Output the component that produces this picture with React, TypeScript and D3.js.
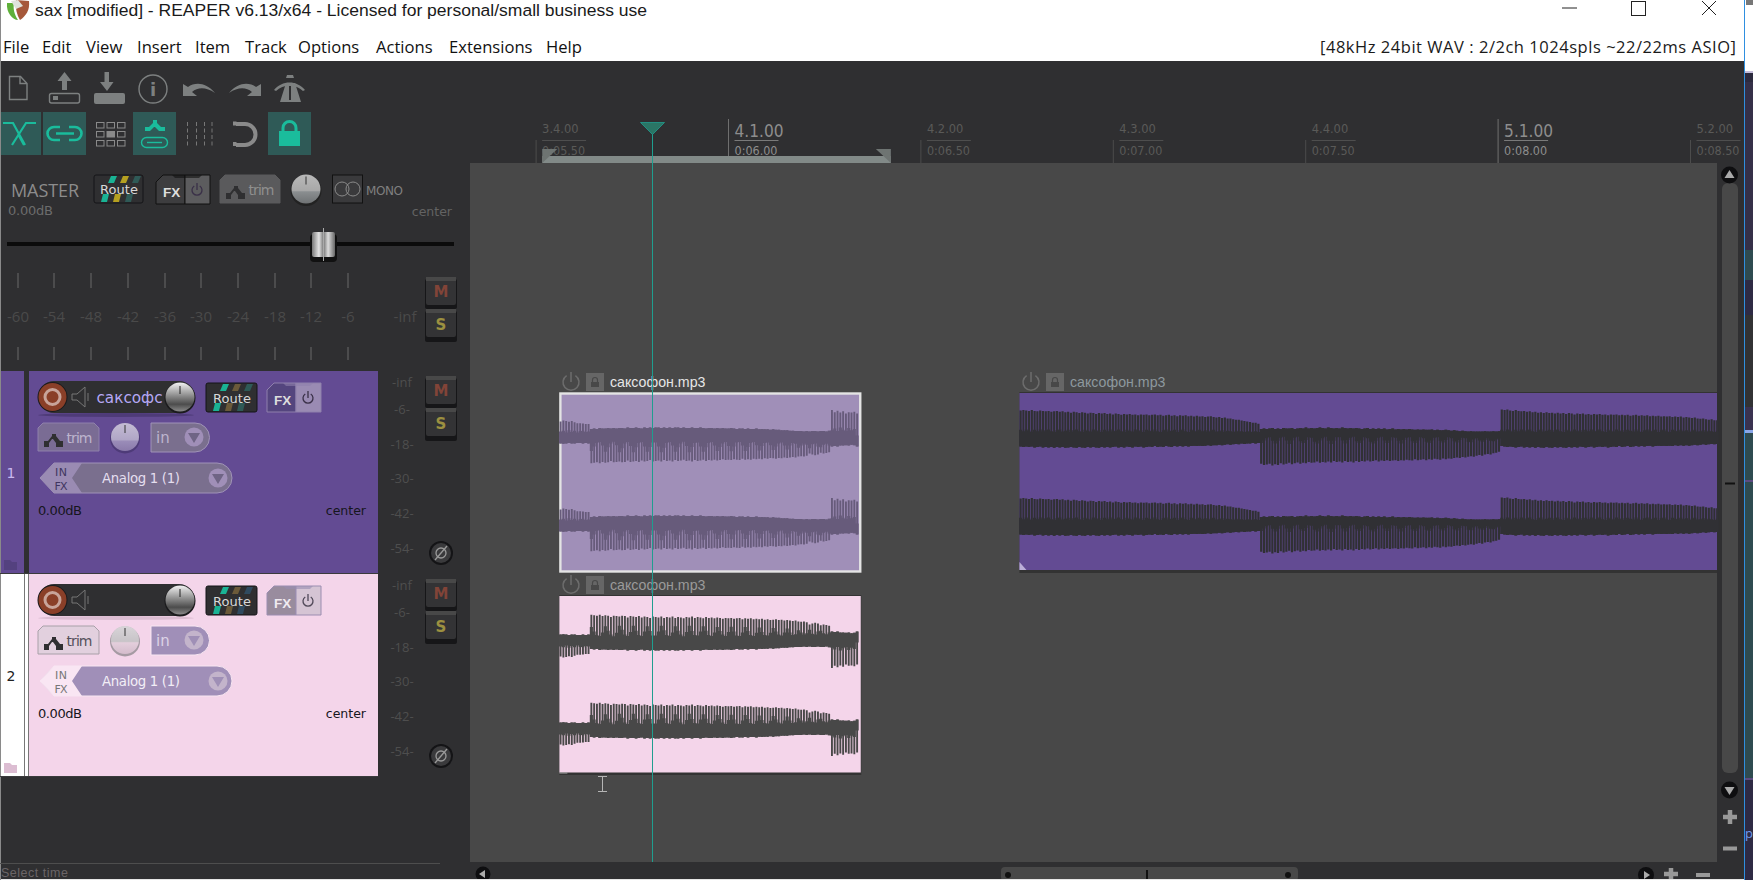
import React from "react";
import * as d3 from "d3";

// ---------- text content ----------
const titleText = "sax [modified] - REAPER v6.13/x64 - Licensed for personal/small business use";
const menuLabels = ["File", "Edit", "View", "Insert", "Item", "Track", "Options", "Actions", "Extensions", "Help"];
const menuStarts = [3, 42, 86, 137, 195, 245, 298, 376, 449, 546];
const statusText = "[48kHz 24bit WAV : 2/2ch 1024spls ~22/22ms ASIO]";
const itemName = "саксофон.mp3";
const masterDb = ["-60", "-54", "-48", "-42", "-36", "-30", "-24", "-18", "-12", "-6"];
const trackDb = ["-inf", "-6", "-18", "-30", "-42", "-54"];
const rulerBeats = ["3.4.00", "4.1.00", "4.2.00", "4.3.00", "4.4.00", "5.1.00", "5.2.00"];
const rulerTimes = [5.5, 6, 6.5, 7, 7.5, 8, 8.5];
const rulerMajor = [false, true, false, false, false, true, false];
const rulerClock = ["0:05.50", "0:06.00", "0:06.50", "0:07.00", "0:07.50", "0:08.00", "0:08.50"];

// ---------- timeline values (seconds) ----------
const cursorTime = 5.801;
const selectionSpan = [5.516, 6.422];
const shortItemStart = 5.5605;
const shortItemEnd = 6.345;
const longItemStart = 6.756;
const barHop = 0.00727;

// ---------- short item peaks: swell, body, release ----------
const shortSpikeA = [0.40, 0.42, 0.41, 0.39, 0.41, 0.38, 0.36, 0.36, 0.35, 0.34, 0.34];
const shortFlatA = [0.10, 0.11, 0.10, 0.09, 0.10, 0.10, 0.09, 0.09, 0.10, 0.09, 0.10];
const shortCoreA = [0.17, 0.19, 0.15, 0.20, 0.16, 0.19, 0.15, 0.18, 0.19, 0.16, 0.17];
const shortSpikeB = [
  0.55, 0.54, 0.53, 0.55, 0.52, 0.54, 0.53, 0.50, 0.53, 0.52,
  0.51, 0.53, 0.52, 0.49, 0.52, 0.51, 0.50, 0.52, 0.49, 0.51,
  0.50, 0.48, 0.51, 0.50, 0.49, 0.51, 0.48, 0.50, 0.49, 0.51,
  0.48, 0.50, 0.49, 0.47, 0.50, 0.49, 0.51, 0.48, 0.50, 0.49,
  0.47, 0.50, 0.48, 0.49, 0.47, 0.49, 0.48, 0.46, 0.48, 0.47,
  0.48, 0.46, 0.47, 0.48, 0.45, 0.47, 0.46, 0.47, 0.45, 0.46,
  0.45, 0.46, 0.44, 0.45, 0.43, 0.44, 0.45, 0.43, 0.44, 0.42,
  0.43, 0.42, 0.41, 0.42, 0.40, 0.39, 0.40, 0.38, 0.33, 0.35,
  0.37, 0.35, 0.31, 0.33, 0.32, 0.30,
];
const shortFlatB = [
  0.23, 0.24, 0.23, 0.25, 0.24, 0.24, 0.25, 0.24, 0.25, 0.24,
  0.25, 0.25, 0.24, 0.26, 0.25, 0.25, 0.26, 0.25, 0.24, 0.26,
  0.25, 0.26, 0.25, 0.26, 0.26, 0.25, 0.26, 0.25, 0.26, 0.25,
  0.26, 0.26, 0.25, 0.26, 0.25, 0.25, 0.26, 0.25, 0.25, 0.26,
  0.25, 0.24, 0.25, 0.25, 0.24, 0.25, 0.24, 0.25, 0.24, 0.24,
  0.25, 0.24, 0.23, 0.24, 0.24, 0.23, 0.24, 0.23, 0.23, 0.24,
  0.22, 0.23, 0.22, 0.22, 0.21, 0.22, 0.21, 0.21, 0.20, 0.20,
  0.20, 0.19, 0.19, 0.18, 0.18, 0.18, 0.17, 0.18, 0.17, 0.18,
  0.18, 0.17, 0.18, 0.18, 0.17, 0.19,
];
const shortCoreB = [
  0.27, 0.17, 0.09, 0.07, 0.15, 0.29, 0.19, 0.10, 0.06, 0.14,
  0.30, 0.21, 0.10, 0.07, 0.16, 0.30, 0.19, 0.09, 0.07, 0.17,
  0.29, 0.18, 0.08, 0.08, 0.17, 0.30, 0.20, 0.09, 0.07, 0.15,
  0.29, 0.19, 0.10, 0.06, 0.16, 0.30, 0.18, 0.09, 0.08, 0.17,
  0.29, 0.19, 0.09, 0.07, 0.15, 0.27, 0.18, 0.10, 0.07, 0.16,
  0.28, 0.17, 0.08, 0.07, 0.15, 0.27, 0.18, 0.09, 0.07, 0.14,
  0.26, 0.16, 0.09, 0.08, 0.14, 0.25, 0.17, 0.10, 0.08, 0.15,
  0.24, 0.15, 0.09, 0.11, 0.20, 0.15, 0.10, 0.13, 0.21, 0.12,
  0.10, 0.17, 0.19, 0.13, 0.11, 0.15,
];
const shortSpikeC = [0.66, 0.61, 0.64, 0.60, 0.63, 0.58, 0.61, 0.60, 0.62, 0.58];
const shortFlatC = [0.17, 0.16, 0.17, 0.15, 0.15, 0.14, 0.15, 0.13, 0.14, 0.17];
const shortCoreC = [0.20, 0.24, 0.18, 0.26, 0.21, 0.18, 0.25, 0.20, 0.23, 0.08];

// ---------- long item peaks: three phrases ----------
const longSpikeA = [
  0.61, 0.62, 0.61, 0.60, 0.62, 0.60, 0.59, 0.61, 0.60, 0.59,
  0.60, 0.58, 0.59, 0.60, 0.58, 0.59, 0.57, 0.58, 0.56, 0.58,
  0.57, 0.55, 0.57, 0.56, 0.54, 0.56, 0.55, 0.53, 0.55, 0.54,
  0.55, 0.53, 0.54, 0.52, 0.54, 0.53, 0.51, 0.53, 0.52, 0.53,
  0.51, 0.52, 0.50, 0.52, 0.51, 0.52, 0.50, 0.51, 0.52, 0.50,
  0.51, 0.49, 0.50, 0.51, 0.49, 0.50, 0.48, 0.50, 0.49, 0.50,
  0.48, 0.49, 0.47, 0.49, 0.47, 0.48, 0.46, 0.47, 0.48, 0.46,
  0.45, 0.46, 0.44, 0.45, 0.43, 0.43, 0.41, 0.40, 0.40, 0.38,
  0.37, 0.36, 0.35, 0.33, 0.33, 0.31,
];
const longFlatA = [
  0.21, 0.22, 0.21, 0.22, 0.21, 0.23, 0.22, 0.21, 0.23, 0.22,
  0.23, 0.22, 0.24, 0.22, 0.23, 0.22, 0.24, 0.23, 0.22, 0.23,
  0.24, 0.22, 0.23, 0.24, 0.22, 0.23, 0.22, 0.23, 0.24, 0.22,
  0.23, 0.22, 0.23, 0.22, 0.21, 0.23, 0.22, 0.23, 0.21, 0.22,
  0.23, 0.21, 0.22, 0.21, 0.23, 0.22, 0.21, 0.22, 0.20, 0.22,
  0.21, 0.22, 0.20, 0.21, 0.22, 0.20, 0.21, 0.20, 0.21, 0.20,
  0.21, 0.20, 0.19, 0.20, 0.19, 0.20, 0.19, 0.18, 0.19, 0.18,
  0.18, 0.17, 0.18, 0.17, 0.16, 0.17, 0.16, 0.15, 0.16, 0.14,
  0.15, 0.14, 0.14, 0.13, 0.14, 0.13,
];
const longSpikeB = [
  0.60, 0.63, 0.62, 0.60, 0.64, 0.61, 0.63, 0.59, 0.62, 0.60,
  0.58, 0.61, 0.59, 0.57, 0.60, 0.58, 0.59, 0.56, 0.58, 0.57,
  0.55, 0.58, 0.56, 0.57, 0.55, 0.57, 0.54, 0.56, 0.55, 0.57,
  0.54, 0.56, 0.55, 0.57, 0.54, 0.56, 0.54, 0.55, 0.53, 0.55,
  0.54, 0.52, 0.55, 0.53, 0.54, 0.52, 0.54, 0.53, 0.52, 0.54,
  0.52, 0.53, 0.51, 0.52, 0.53, 0.50, 0.52, 0.51, 0.50, 0.52,
  0.50, 0.51, 0.49, 0.50, 0.51, 0.48, 0.50, 0.48, 0.49, 0.47,
  0.46, 0.47, 0.45, 0.46, 0.44, 0.43, 0.44, 0.42, 0.40, 0.42,
  0.39, 0.38, 0.39, 0.36, 0.35, 0.33,
];
const longFlatB = [
  0.19, 0.20, 0.19, 0.20, 0.21, 0.19, 0.20, 0.19, 0.21, 0.20,
  0.20, 0.21, 0.19, 0.20, 0.21, 0.20, 0.22, 0.20, 0.21, 0.20,
  0.21, 0.22, 0.21, 0.20, 0.22, 0.21, 0.20, 0.21, 0.20, 0.22,
  0.21, 0.20, 0.21, 0.20, 0.21, 0.20, 0.19, 0.20, 0.21, 0.19,
  0.20, 0.19, 0.20, 0.19, 0.20, 0.18, 0.19, 0.20, 0.18, 0.19,
  0.18, 0.19, 0.18, 0.19, 0.18, 0.17, 0.18, 0.17, 0.18, 0.17,
  0.17, 0.18, 0.16, 0.17, 0.16, 0.16, 0.17, 0.16, 0.15, 0.16,
  0.15, 0.14, 0.15, 0.14, 0.13, 0.14, 0.13, 0.13, 0.13, 0.13,
  0.14, 0.13, 0.13, 0.14, 0.13, 0.14,
];
const longCoreA = [
  0.17, 0.14, 0.18, 0.15, 0.12, 0.17, 0.14, 0.18, 0.13, 0.16,
  0.18, 0.14, 0.12, 0.16, 0.18, 0.13, 0.15, 0.17, 0.12, 0.16,
  0.18, 0.14, 0.12, 0.17, 0.15, 0.13, 0.18, 0.14, 0.16, 0.12,
  0.17, 0.14, 0.18, 0.13, 0.15, 0.18, 0.14, 0.12, 0.17, 0.15,
  0.13, 0.18, 0.14, 0.16, 0.12, 0.17, 0.15, 0.13, 0.18, 0.14,
  0.12, 0.16, 0.18, 0.13, 0.15, 0.17, 0.12, 0.16, 0.18, 0.14,
  0.12, 0.17, 0.15, 0.13, 0.17, 0.14, 0.16, 0.12, 0.15, 0.17,
  0.13, 0.14, 0.16, 0.12, 0.15, 0.14, 0.12, 0.15, 0.13, 0.14,
  0.12, 0.14, 0.13, 0.12, 0.14, 0.12,
];
const longCoreB = [
  0.13, 0.07, 0.02, 0.00, 0.08, 0.14, 0.08, 0.01, -0.01, 0.07,
  0.15, 0.07, 0.01, -0.01, 0.09, 0.13, 0.06, 0.00, 0.01, 0.10,
  0.14, 0.07, 0.02, -0.01, 0.08, 0.15, 0.08, 0.00, 0.00, 0.07,
  0.14, 0.06, 0.01, -0.01, 0.09, 0.13, 0.07, 0.00, 0.02, 0.10,
  0.14, 0.08, 0.01, -0.01, 0.07, 0.13, 0.07, 0.00, 0.01, 0.08,
  0.14, 0.06, 0.01, 0.00, 0.09, 0.13, 0.07, 0.00, 0.02, 0.10,
  0.13, 0.07, 0.01, 0.00, 0.08, 0.12, 0.06, 0.00, 0.02, 0.09,
  0.12, 0.06, 0.01, 0.02, 0.10, 0.11, 0.05, 0.02, 0.07, 0.10,
  0.06, 0.02, 0.08, 0.09, 0.05, 0.03,
];
const longSpikeC = [
  0.63, 0.62, 0.63, 0.61, 0.60, 0.62, 0.60, 0.59, 0.60, 0.58,
  0.59, 0.57, 0.58, 0.56, 0.57, 0.55, 0.57, 0.55, 0.56, 0.54,
  0.56, 0.54, 0.55, 0.53, 0.55, 0.54, 0.52, 0.54, 0.53, 0.54,
  0.52, 0.53, 0.51, 0.53, 0.52, 0.53, 0.51, 0.52, 0.50, 0.52,
  0.51, 0.52, 0.50, 0.51, 0.50, 0.51, 0.49, 0.50, 0.51, 0.49,
  0.50, 0.49, 0.50, 0.48, 0.49, 0.48, 0.49, 0.47, 0.48, 0.47,
  0.48, 0.46, 0.47, 0.46, 0.47, 0.45, 0.46, 0.45, 0.44, 0.45,
  0.43, 0.42, 0.43, 0.41, 0.40, 0.41, 0.39, 0.39,
];
const longFlatC = [
  0.20, 0.21, 0.22, 0.21, 0.22, 0.23, 0.22, 0.21, 0.23, 0.22,
  0.23, 0.22, 0.24, 0.22, 0.23, 0.24, 0.22, 0.23, 0.24, 0.22,
  0.23, 0.22, 0.23, 0.24, 0.22, 0.23, 0.22, 0.23, 0.21, 0.22,
  0.23, 0.22, 0.21, 0.23, 0.22, 0.21, 0.22, 0.21, 0.23, 0.22,
  0.21, 0.22, 0.20, 0.22, 0.21, 0.20, 0.22, 0.21, 0.20, 0.21,
  0.20, 0.21, 0.20, 0.19, 0.21, 0.20, 0.19, 0.20, 0.19, 0.20,
  0.19, 0.20, 0.18, 0.19, 0.18, 0.19, 0.18, 0.19, 0.18, 0.17,
  0.18, 0.17, 0.16, 0.17, 0.16, 0.15, 0.16, 0.15,
];
const longCoreC = [
  0.17, 0.14, 0.18, 0.15, 0.12, 0.17, 0.14, 0.18, 0.13, 0.16,
  0.18, 0.14, 0.12, 0.16, 0.18, 0.13, 0.15, 0.17, 0.12, 0.16,
  0.18, 0.14, 0.12, 0.17, 0.15, 0.13, 0.18, 0.14, 0.16, 0.12,
  0.17, 0.14, 0.18, 0.13, 0.15, 0.18, 0.14, 0.12, 0.17, 0.15,
  0.13, 0.18, 0.14, 0.16, 0.12, 0.17, 0.15, 0.13, 0.18, 0.14,
  0.12, 0.16, 0.18, 0.13, 0.15, 0.17, 0.12, 0.16, 0.18, 0.14,
  0.12, 0.17, 0.15, 0.13, 0.17, 0.14, 0.16, 0.12, 0.15, 0.17,
  0.13, 0.14, 0.16, 0.12, 0.15, 0.14, 0.12, 0.15,
];

// ---------- layout / scales ----------
const timeX = d3.scaleLinear().domain([6, 8.5]).range([728.5, 1690.5]);
const ampPx = d3.scaleLinear().domain([0, 1]).range([0, 44]);

const SANS = "'Open Sans','Noto Sans',sans-serif";
const UI = "'Liberation Sans',Arial,sans-serif";
const DV = "'DejaVu Sans',sans-serif";
const PANEL = "#2f2f31";
const ARRANGE = "#484848";

type Sec = { spike: number[]; flat: number[]; core: number[]; up: boolean };
const shortSecs: Sec[] = [
  { spike: shortSpikeA, flat: shortFlatA, core: shortCoreA, up: true },
  { spike: shortSpikeB, flat: shortFlatB, core: shortCoreB, up: false },
  { spike: shortSpikeC, flat: shortFlatC, core: shortCoreC, up: true },
];
const longSecs: Sec[] = [
  { spike: longSpikeA, flat: longFlatA, core: longCoreA, up: true },
  { spike: longSpikeB, flat: longFlatB, core: longCoreB, up: false },
  { spike: longSpikeC, flat: longFlatC, core: longCoreC, up: true },
];

function Wave({ start, secs, centers, color, flip, barW }: { start: number; secs: Sec[]; centers: number[]; color: string; flip?: boolean; barW: number }) {
  const rows = secs.flatMap((s) =>
    s.spike.map((v, i) => ({ spike: v, flat: s.flat[i], core: s.core[i], up: flip ? !s.up : s.up }))
  );
  const step = timeX(start + barHop) - timeX(start);
  const paths = centers.map((cy) => {
    let thin = "";
    let solid = "";
    rows.forEach((r, i) => {
      const x = timeX(start + i * barHop) + 1.2;
      const dir = r.up ? -1 : 1;
      const yFlat = cy - dir * ampPx(r.flat);
      const ySpike = cy + dir * ampPx(r.spike);
      const yCore = cy + dir * ampPx(r.core);
      thin += `M${x},${yFlat}L${x},${ySpike}`;
      const x2 = x + step / 2 + 0.15;
      solid += `M${x - step / 2 - 0.15},${Math.min(yFlat, yCore)}H${x2}V${Math.max(yFlat, yCore)}H${x - step / 2 - 0.15}Z`;
    });
    return { thin, solid };
  });
  return (
    <g>
      {paths.map((p, i) => (
        <g key={i}>
          <path d={p.thin} stroke={color} strokeWidth={barW} fill="none" />
          <path d={p.solid} fill={color} />
        </g>
      ))}
    </g>
  );
}

function PowerIcon({ x, y, r, color, sw = 1.5 }: { x: number; y: number; r: number; color: string; sw?: number }) {
  return (
    <g fill="none" stroke={color} strokeWidth={sw}>
      <path d={`M${x - r * 0.55},${y - r * 0.8}A${r},${r} 0 1 0 ${x + r * 0.55},${y - r * 0.8}`} />
      <line x1={x} y1={y - r - 2} x2={x} y2={y} />
    </g>
  );
}

function ItemHeader({ x, y, color }: { x: number; y: number; color: string }) {
  return (
    <g>
      <PowerIcon x={x + 12} y={y + 9} r={8} color="#6c6c6c" />
      <rect x={x + 27} y={y} width={18} height={18} fill="#666" />
      <path d={`M${x + 32},${y + 14}v-5h8v5z`} fill="#484848" />
      <path d={`M${x + 33.5},${y + 9}v-2a2.5,2.5 0 0 1 5,0v2`} stroke="#484848" strokeWidth={1.2} fill="none" />
      <text x={x + 51} y={y + 14} fill={color} fontFamily={UI} fontSize={14.2}>{itemName}</text>
    </g>
  );
}

function Knob({ cx, cy, r, grad, ring }: { cx: number; cy: number; r: number; grad: string; ring: string }) {
  return (
    <g>
      <circle cx={cx} cy={cy + 1.5} r={r + 1} fill={ring} />
      <circle cx={cx} cy={cy} r={r} fill={`url(#${grad})`} />
      <line x1={cx} y1={cy - r + 2} x2={cx} y2={cy - r + 10} stroke="#333" strokeWidth={1} />
    </g>
  );
}

function RouteBtn({ x, y, w, h, c1, c2, c3, bg }: any) {
  const slant = (sx: number, c: string) => (
    <g fill={c}>
      <path d={`M${sx + 3},${y + 1}h6l-3,7h-6z`} />
      <path d={`M${sx - 5},${y + h - 9}h6l-2,8h-6z`} />
    </g>
  );
  return (
    <g>
      <rect x={x} y={y} width={w} height={h} rx={2} fill={bg} stroke="#151518" />
      {slant(x + 14, c1)}
      {slant(x + 26, c2)}
      {slant(x + 38, c3)}
      <text x={x + w / 2 + 0.5} y={y + h / 2 + 5} textAnchor="middle" fill="#d8d8d8" fontFamily={DV} fontSize={13} textLength={38}>Route</text>
    </g>
  );
}

function FxBtn({ x, y, cL, cR, txt, stroke }: any) {
  return (
    <g>
      <path d={`M${x},${y + 7}l7,-7h22v29h-29z`} fill={cL} stroke={stroke} />
      <path d={`M${x + 29},${y}h25v29h-25z`} fill={cR} stroke={stroke} />
      <path d={`M${x + 16},${y}h30l-3,3h-24z`} fill={stroke} opacity={0.6} />
      <text x={x + 7} y={y + 22} fill={txt} fontFamily={UI} fontWeight={700} fontSize={13.5}>FX</text>
      <PowerIcon x={x + 41} y={y + 15} r={5} color={txt === "#ddd" ? "#3a3048" : "#504858"} sw={1.3} />
    </g>
  );
}

function TrimBtn({ x, y, w, fill, stroke, txt }: any) {
  return (
    <g>
      <path d={`M${x},${y + 5}l5,-5h${w - 10}l5,5v23h-${w}z`} fill={fill} stroke={stroke} />
      <path d={`M${x + 6},${y + 24}v-6h4l4,-5v-2h4v2l4,5h3v6h-7v-4l-3,-4h-1l-3,4v4z`} fill="#2f2f31" />
      <text x={x + 28.5} y={y + 20} fill={txt} fontFamily={DV} fontSize={14} textLength={26}>trim</text>
    </g>
  );
}

function MsBtns({ y }: { y: number }) {
  return (
    <g>
      <rect x={425} y={y + 2} width={32} height={30} rx={2} fill="#161618" />
      <rect x={426} y={y} width={30} height={28} rx={2} fill="#333335" />
      <rect x={426} y={y} width={30} height={4} fill="#484848" />
      <text x={441} y={y + 20} textAnchor="middle" fill="#824438" fontFamily={DV} fontWeight={700} fontSize={15}>M</text>
      <rect x={425} y={y + 34} width={32} height={31} rx={2} fill="#161618" />
      <rect x={426} y={y + 32} width={30} height={28} rx={2} fill="#333335" />
      <rect x={426} y={y + 32} width={30} height={4} fill="#484848" />
      <text x={441} y={y + 53} textAnchor="middle" fill="#9c9040" fontFamily={DV} fontWeight={700} fontSize={15}>S</text>
    </g>
  );
}

function Track({ y0, n, theme }: { y0: number; n: number; theme: any }) {
  const y = (v: number) => y0 + v;
  return (
    <g>
      <rect x={1} y={y0} width={23} height={202} fill={theme.side} />
      <rect x={24} y={y0} width={5} height={202} fill={theme.gap} />
      {theme.rails && <g fill="#777"><rect x={24} y={y0} width={1} height={202} /><rect x={28} y={y0} width={1} height={202} /></g>}
      <rect x={29} y={y0} width={349} height={202} fill={theme.bg} />
      <rect x={0} y={y0 + 202} width={378} height={1} fill="#3a3a3c" />
      <text x={11} y={y(107)} textAnchor="middle" fill={theme.num} fontFamily={DV} fontSize={14}>{n}</text>
      <path d={`M4,${y(189)}h6l2,2h5v8h-13z`} fill={theme.folder} />

      <rect x={38} y={y(10)} width={157} height={32} rx={16} fill="#2f2f31" />
      <ellipse cx={116} cy={y(44)} rx={78} ry={2} fill={theme.shadow} />
      <circle cx={52.5} cy={y(26)} r={15} fill="#1b1b1d" />
      <circle cx={52.5} cy={y(26)} r={14} fill="#8a3f28" />
      <circle cx={52.5} cy={y(26)} r={7.5} fill="none" stroke="#c8a49a" strokeWidth={3} />
      <circle cx={52.5} cy={y(26)} r={3.5} fill="#8a3f28" />
      <path d={`M72,${y(23)}h5l8,-7v20l-8,-7h-5z`} fill="none" stroke="#777" strokeWidth={1} />
      <line x1={88} y1={y(22)} x2={88} y2={y(30)} stroke="#777" />
      {theme.name && <text x={96.5} y={y(32)} fill="#b6a8f5" fontFamily={DV} fontSize={16} textLength={66} lengthAdjust="spacingAndGlyphs">{theme.name}</text>}
      <circle cx={180} cy={y(27)} r={15.5} fill="#1b1b1d" />
      <circle cx={180} cy={y(26)} r={14.5} fill="url(#sphere)" />
      <line x1={180} y1={y(15)} x2={180} y2={y(23)} stroke="#222" />

      <RouteBtn x={206} y={y(12)} w={51} h={29} c1="#1ab394" c2="#6b5a3a" c3={theme.routeC3} bg="#2f2f31" />
      <FxBtn x={267} y={y(12)} cL={theme.fxL} cR={theme.fxR} txt={theme.fxTxt} stroke={theme.btnStroke} />

      <TrimBtn x={38} y={y(52)} w={61} fill={theme.trim} stroke={theme.trimStroke} txt={theme.trimTxt} />
      <Knob cx={125} cy={y(66)} r={14} grad={theme.knobGrad} ring={theme.knobRing} />
      <path d={`M151,${y(52)}h44a14,14 0 0 1 0,29h-44z`} fill={theme.pill} stroke={theme.pillStroke} />
      <text x={156} y={y(72)} fill={theme.pillTxt} fontFamily={DV} fontSize={15}>in</text>
      <circle cx={194} cy={y(66)} r={9.5} fill={theme.arrow} />
      <path d={`M188,${y(62)}h12l-6,10z`} fill={theme.arrowIn} />

      <path d={`M40,${y(107)}l14,-15h163a15,15 0 0 1 0,30h-163z`} fill={theme.pill} stroke={theme.pillStroke} />
      <path d={`M40,${y(107)}l14,-15h28l-10,15l10,15h-28z`} fill={theme.inFx} />
      <text x={61} y={y(105)} textAnchor="middle" fill={theme.inFxTxt} fontFamily={DV} fontSize={11} textLength={12}>IN</text>
      <text x={61} y={y(119)} textAnchor="middle" fill={theme.inFxTxt} fontFamily={DV} fontSize={11} textLength={13}>FX</text>
      <text x={102} y={y(112)} fill={theme.inputTxt} fontFamily={DV} fontSize={13.3} textLength={78}>Analog 1 (1)</text>
      <circle cx={218} cy={y(107)} r={9.5} fill={theme.arrow} />
      <path d={`M212,${y(103)}h12l-6,10z`} fill={theme.arrowIn} />

      <text x={38} y={y(144)} fill="#16161c" fontFamily={DV} fontSize={13} textLength={44}>0.00dB</text>
      <text x={366} y={y(144)} textAnchor="end" fill="#16161c" fontFamily={DV} fontSize={12.5}>center</text>

      {trackDb.map((d, i) => (
        <text key={d} x={402} y={y([16, 43, 78, 112, 147, 182][i])} textAnchor="middle" fill="#4e4e4e" fontFamily={SANS} fontSize={13}>
          {i === 0 ? d : `${d}-`}
        </text>
      ))}
      <MsBtns y={y(5)} />
      <circle cx={441} cy={y(182)} r={12} fill="#141416" />
      <circle cx={441} cy={y(182)} r={10} fill="#3a3a3c" />
      <circle cx={441} cy={y(182)} r={5} fill="none" stroke="#9a9a9a" strokeWidth={1.3} />
      <line x1={435} y1={y(189)} x2={447} y2={y(175)} stroke="#9a9a9a" strokeWidth={1.3} />
    </g>
  );
}

const theme1 = {
  side: "#634b93", gap: "#2f2f31", bg: "#634b93", num: "#c8b8f0", folder: "#54417f", shadow: "#4e3b78", name: "саксофс",
  routeC3: "#2f5a57", fxL: "#54457e", fxR: "#9a8bb3", fxTxt: "#ddd", btnStroke: "#8f80ac", trim: "#7a6c94", trimStroke: "#8f80ac", trimTxt: "#bdb4cd",
  knobGrad: "knobPurple", knobRing: "#4e3b78", pill: "#7a6f8e", pillStroke: "#a093b8", pillTxt: "#bdb4cd", arrow: "#a08fb8", arrowIn: "#6f6485",
  inFx: "#9a8bb3", inFxTxt: "#3f3560", inputTxt: "#e4deee",
};
const theme2 = {
  side: "#ffffff", gap: "#ffffff", rails: true, bg: "#f4d5ea", num: "#222", folder: "#dcbdd2", shadow: "#dcbdd2", name: "",
  routeC3: "#2f4a5f", fxL: "#998c9e", fxR: "#d5c4d4", fxTxt: "#f0eaf0", btnStroke: "#9a8db0", trim: "#e2d0de", trimStroke: "#a8a0a8", trimTxt: "#55505a",
  knobGrad: "knobPink", knobRing: "#a59aa3", pill: "#a08fb8", pillStroke: "#f8e6f2", pillTxt: "#dcd3e6", arrow: "#c3b4cb", arrowIn: "#9f8fb6",
  inFx: "#f9e6f3", inFxTxt: "#777", inputTxt: "#f2eef6",
};

export default function App() {
  const W = 1753;
  const H = 880;
  const cursorX = Math.round(timeX(cursorTime)) + 0.5;
  const selA = timeX(selectionSpan[0]);
  const selB = timeX(selectionSpan[1]);
  const xS0 = timeX(shortItemStart);
  const xS1 = timeX(shortItemEnd);
  const xL0 = timeX(longItemStart);
  const xL1 = 1717;

  return (
    <svg width={W} height={H} viewBox={`0 0 ${W} ${H}`} style={{ position: "fixed", left: 0, top: 0, display: "block" }}>
      <defs>
        <linearGradient id="sphere" x1="0" x2="0" y1="0" y2="1">
          <stop offset="0" stopColor="#f2f2f2" />
          <stop offset="0.45" stopColor="#8e8e8e" />
          <stop offset="0.75" stopColor="#4c4c4c" />
          <stop offset="1" stopColor="#8a8a8a" />
        </linearGradient>
        <linearGradient id="knobGray" x1="0" x2="0" y1="0" y2="1">
          <stop offset="0" stopColor="#b9b9b9" />
          <stop offset="0.55" stopColor="#a8a8a8" />
          <stop offset="0.6" stopColor="#8a8e90" />
          <stop offset="1" stopColor="#6f7274" />
        </linearGradient>
        <linearGradient id="knobPurple" x1="0" x2="0" y1="0" y2="1">
          <stop offset="0" stopColor="#c4bcd4" />
          <stop offset="0.6" stopColor="#b0a6c6" />
          <stop offset="0.65" stopColor="#9a8cb8" />
          <stop offset="1" stopColor="#8a7aaa" />
        </linearGradient>
        <linearGradient id="knobPink" x1="0" x2="0" y1="0" y2="1">
          <stop offset="0" stopColor="#d8d4d8" />
          <stop offset="0.55" stopColor="#c8c4c8" />
          <stop offset="0.6" stopColor="#e4cedc" />
          <stop offset="1" stopColor="#d4bccc" />
        </linearGradient>
        <linearGradient id="fader" x1="0" x2="1" y1="0" y2="0">
          <stop offset="0" stopColor="#777" />
          <stop offset="0.3" stopColor="#e4e4e4" />
          <stop offset="0.5" stopColor="#777" />
          <stop offset="0.7" stopColor="#dcdcdc" />
          <stop offset="1" stopColor="#666" />
        </linearGradient>
      </defs>

      {/* window */}
      <rect x={0} y={0} width={W} height={H} fill="#ffffff" />
      <rect x={0} y={61} width={1744} height={819} fill={PANEL} />
      <rect x={0} y={0} width={1} height={H} fill="#8a8a8a" />

      {/* logo + title */}
      <path d="M7,3C6,13 13,20 18,20C14,14 13,8 14,3Z" fill="#5fb03a" />
      <path d="M16,0C15,8 17,15 20,20C26,16 30,10 29,1Z" fill="#a6583a" />
      <path d="M11,1L18,0L23,6L16,9Z" fill="#dfe3dc" />
      <text x={35} y={16} fill="#1a1a1a" fontFamily={UI} fontSize={17.4} textLength={612} lengthAdjust="spacingAndGlyphs">{titleText}</text>
      {menuLabels.map((m, i) => (
        <text key={m} x={menuStarts[i]} y={53} fill="#111" fontFamily={SANS} fontSize={16.6}>{m}</text>
      ))}
      <text x={1736} y={53} textAnchor="end" fill="#1a1a1a" fontFamily={SANS} fontSize={16.5} textLength={416}>{statusText}</text>
      {/* window buttons */}
      <line x1={1562} y1={8} x2={1577} y2={8} stroke="#222" />
      <rect x={1631.5} y={1.5} width={14} height={14} fill="none" stroke="#222" />
      <path d="M1702,1L1716,15M1716,1L1702,15" stroke="#222" fill="none" />

      {/* side strip beyond the window */}
      <rect x={1745} y={0} width={8} height={880} fill="#2e2a44" />
      <rect x={1745} y={0} width={8} height={71} fill="#ffffff" />
      <rect x={1746} y={0} width={7} height={5} fill="#777" />
      <rect x={1745} y={71} width={8} height={2} fill="#c4bcd8" />
      <rect x={1745} y={73} width={8} height={9} fill="#2c2a3e" />
      <rect x={1745} y={82} width={8} height={168} fill="#353048" />
      <rect x={1745} y={250} width={8} height={30} fill="#2f4b50" />
      <rect x={1745} y={315} width={8} height={92} fill="#323234" />
      <rect x={1745} y={407} width={8} height={24} fill="#3a3250" />
      <rect x={1745} y={430} width={8} height={3} fill="#8aa6e8" />
      <rect x={1745} y={433} width={8} height={47} fill="#2f4b50" />
      <rect x={1745} y={480} width={8} height={2} fill="#5c4a80" />
      <rect x={1745} y={482} width={8} height={296} fill="#2f4b50" />
      <rect x={1745} y={778} width={8} height={2} fill="#5c4a80" />
      <text x={1745} y={838} fill="#6f9cf0" fontFamily={SANS} fontSize={13}>p</text>
      <rect x={1744} y={0} width={1} height={880} fill="#2f8fe0" />

      {/* arrange area */}
      <rect x={470} y={163} width={1247} height={699} fill={ARRANGE} />

      {/* ruler */}
      {rulerTimes.map((t, i) => {
        const x = timeX(t);
        const major = rulerMajor[i];
        const c = major ? "#8d8d8d" : "#5a5a58";
        return (
          <g key={t}>
            <line x1={x} x2={x} y1={major ? 119 : 140} y2={163} stroke={major ? "#6f6f6f" : "#4c4c4c"} />
            <text x={x + 6} y={major ? 137 : 133} fill={c} fontFamily={DV} fontSize={major ? 17 : 12.5} textLength={major ? 49 : 36.5} lengthAdjust="spacingAndGlyphs">{rulerBeats[i]}</text>
            <line x1={x + 6} x2={x + 50} y1={140.5} y2={140.5} stroke={major ? "#7a7a7a" : "#4e4e4e"} />
            <text x={x + 6} y={155} fill={c} fontFamily={DV} fontSize={12.5} textLength={43} lengthAdjust="spacingAndGlyphs">{rulerClock[i]}</text>
          </g>
        );
      })}

      {/* time selection bar */}
      <rect x={selA} y={156} width={selB - selA} height={7} fill="#828a88" />
      <path d={`M${selA},149h15l-15,14z`} fill="#6e7472" />
      <path d={`M${selB},149h-15l15,14z`} fill="#6e7472" />

      {/* master strip */}
      <text x={11} y={197} fill="#8c8c8c" fontFamily={SANS} fontSize={18} textLength={68}>MASTER</text>
      <text x={8} y={215} fill="#6c6c6c" fontFamily={DV} fontSize={13} textLength={45}>0.00dB</text>
      <text x={452} y={216} textAnchor="end" fill="#636363" fontFamily={DV} fontSize={12.5}>center</text>
      <RouteBtn x={94} y={175} w={49} h={28} c1="#1ab394" c2="#b5a020" c3="#2f5a57" bg="#2f2f31" />
      <FxBtn x={156} y={175} cL="#3d3d3f" cR="#5c5c5e" txt="#ddd" stroke="#111" />
      <TrimBtn x={220} y={175} w={60} fill="#5a5a5c" stroke="#5a5a5c" txt="#8f8f8f" />
      <Knob cx={306} cy={189} r={14.5} grad="knobGray" ring="#222" />
      <rect x={332.5} y={175} width={30} height={28} fill="#3a3a3c" stroke="#111" />
      <circle cx={342} cy={189} r={7} fill="none" stroke="#8a8a8a" />
      <circle cx={353} cy={189} r={7} fill="none" stroke="#8a8a8a" />
      <text x={366} y={195} fill="#7f7f7f" fontFamily={DV} fontSize={12} textLength={37}>MONO</text>

      <rect x={7} y={242} width={447} height={4} fill="#0b0b0b" />
      <rect x={310} y={234} width={27} height={28} rx={4} fill="#111" />
      <rect x={312} y={232} width={23} height={25} rx={2} fill="url(#fader)" />
      <line x1={323.5} y1={228} x2={323.5} y2={261} stroke="#aaa" />

      {masterDb.map((d, i) => {
        const x = [18, 54, 91, 128, 165, 201, 238, 275, 311, 348][i];
        return (
          <g key={d}>
            <line x1={x} x2={x} y1={273} y2={288} stroke="#6a6a6a" />
            <line x1={x} x2={x} y1={347} y2={360} stroke="#6a6a6a" />
            <text x={x} y={322} textAnchor="middle" fill="#4a4a4a" fontFamily={SANS} fontSize={15}>{d}</text>
          </g>
        );
      })}
      <text x={405} y={322} textAnchor="middle" fill="#4a4a4a" fontFamily={SANS} fontSize={15}>-inf</text>
      <MsBtns y={277} />

      <Track y0={371} n={1} theme={theme1} />
      <Track y0={574} n={2} theme={theme2} />

      <rect x={0} y={863} width={440} height={1} fill="#4e4e4e" />
      <text x={1} y={877} fill="#6a6466" fontFamily={UI} fontSize={12.5} textLength={67}>Select time</text>

      {/* items */}
      <ItemHeader x={559} y={373} color="#e6e6e6" />
      <rect x={xS0 + 1} y={393.5} width={xS1 - xS0 - 2} height={178} fill="#a08fb8" stroke="#e4e4e4" strokeWidth={2.4} />
      <Wave start={shortItemStart} secs={shortSecs} centers={[439, 527]} color="#675b7b" barW={1.9} />

      <ItemHeader x={559} y={576} color="#9a9a9a" />
      <rect x={xS0} y={595} width={xS1 - xS0} height={180} fill="#333" />
      <rect x={xS0} y={596} width={xS1 - xS0 - 0.5} height={176.5} fill="#f4d5ea" />
      <rect x={xS0} y={772.5} width={8} height={1} fill="#aaa" />
      <Wave start={shortItemStart} secs={shortSecs} centers={[639, 727]} color="#484848" flip barW={1.9} />

      <ItemHeader x={1019} y={373} color="#8d989e" />
      <rect x={xL0} y={392} width={xL1 - xL0} height={181} fill="#333" />
      <rect x={xL0} y={393} width={xL1 - xL0} height={177} fill="#634b93" />
      <path d={`M${xL0},562l7,8h-7z`} fill="#bcaed8" />
      <Wave start={longItemStart} secs={longSecs} centers={[437.3, 525.3]} color="#303034" barW={2.2} />

      {/* cursor */}
      <line x1={cursorX} x2={cursorX} y1={130} y2={862} stroke="#1f9e8f" strokeWidth={1} />
      <path d={`M${cursorX - 12},122.5h24l-12,12z`} fill="#2a7565" stroke="#1f9e8f" strokeWidth={0.8} />

      {/* mouse I-beam */}
      <path d="M598,776.5h9M602.5,776.5V791M598,791.5h9" stroke="#b5b5b5" fill="none" />

      {/* vertical scroller */}
      <rect x={1722} y={183} width={16} height={590} rx={6} fill="#484848" />
      <rect x={1725} y={482.5} width={10} height={2} fill="#111" />
      <circle cx={1729.5} cy={175} r={8.5} fill="#0e0e10" />
      <path d="M1729.5,170l5,8h-10z" fill="#aaa" />
      <circle cx={1729.5} cy={790} r={8.5} fill="#0e0e10" />
      <path d="M1729.5,795l5,-8h-10z" fill="#aaa" />
      <path d="M1730,810v14M1723,817h14" stroke="#999" strokeWidth={4.5} />
      <path d="M1723,848.5h14" stroke="#999" strokeWidth={4} />

      {/* horizontal scroller */}
      <circle cx={483} cy={874} r={7.5} fill="#0e0e10" />
      <path d="M479,874l6,-4v8z" fill="#aaa" />
      <rect x={1001} y={867} width={297} height={14} rx={4} fill="#484848" />
      <circle cx={1008} cy={875} r={3} fill="#111" />
      <circle cx={1288} cy={875} r={3} fill="#111" />
      <rect x={1146} y={870} width={2} height={9} fill="#111" />
      <circle cx={1646} cy={875} r={8} fill="#0e0e10" />
      <path d="M1650,875l-6,-4v8z" fill="#aaa" />
      <path d="M1671,868v12M1664,874h14" stroke="#999" strokeWidth={4.5} />
      <path d="M1696,875h14" stroke="#999" strokeWidth={4} />
      <rect x={1} y={879} width={1743} height={1} fill="#e6e6e6" />

      {/* toolbar top row */}
      <g fill="none" stroke="#7d8080" strokeWidth={1.4}>
        <path d="M9.5,76.5h11l6.5,7v16h-17.5z" />
        <path d="M20,76.5v7h7" />
        <rect x={49.5} y={93.5} width={30} height={9.5} rx={2} />
        <circle cx={153} cy={89} r={14} />
      </g>
      <g fill="#7d8080">
        <path d="M64.5,72l-7,9h4.5v9h5v-9h4.5z" />
        <rect x={53} y={96} width={5} height={4} />
        <path d="M109,72v10h4.5l-6.5,9l-7,-9h4.5v-10z" />
        <rect x={94} y={93} width={31} height={11} rx={2} />
        <text x={153} y={96} textAnchor="middle" fontFamily={DV} fontWeight={700} fontSize={18}>i</text>
        <path d="M183,96V84l5,3C195,82 206,82 215,93C206,87 198,87 192,92L197,96Z" />
        <path d="M261,96V84l-5,3C249,82 238,82 229,93C238,87 246,87 252,92L247,96Z" />
        <path d="M286,83h9l6,19h-21ZM287,75h6l1,3h-8Z" />
        <path d="M274,90C282,80 297,80 305,90L303,91C296,84 283,84 276,91Z" />
      </g>
      <path d="M290,86v14" stroke={PANEL} strokeWidth={2} />

      {/* toolbar bottom row */}
      {[[1, 40], [43, 43], [133, 43], [268, 43]].map(([x, w]) => (
        <rect key={x} x={x} y={112} width={w} height={43} fill="#2f5a57" />
      ))}
      <g fill="none" stroke="#1abc9c" strokeWidth={2.2}>
        <path d="M3,123h10l12,22M36,123h-10l-14,22M18,134l6,11" />
        <path d="M60,127h-6a6,6 0 0 0 0,13h6M69,127h6a6,6 0 0 1 0,13h-6M56,133.5h18" strokeWidth={2.6} />
      </g>
      <g fill="none" stroke="#1abc9c" strokeWidth={1.4}>
        <rect x={141.5} y={137.5} width={26} height={10} rx={5} />
        <path d="M147,142.5h15" />
      </g>
      <path d="M145,131v-4h4l4,-4v-3h4v3l4,4h4v4h-6l-4,-4h-1l-4,4z" fill="#1abc9c" />
      <g fill="none" stroke="#8a8a8a">
        {[0, 1, 2].flatMap((r) =>
          [0, 1, 2].map((c) => (
            <rect key={`${r}-${c}`} x={96.5 + c * 10.5} y={122.5 + r * 9} width={7.5} height={5.5} fill={r === 1 && c === 1 ? "#8a8a8a" : "none"} />
          ))
        )}
      </g>
      <g stroke="#777" strokeDasharray="4 2.5">
        {[187.5, 196.5, 204.5, 212].map((x) => (
          <line key={x} x1={x} x2={x} y1={122} y2={146} />
        ))}
      </g>
      <path d="M236,124h9a10.5,10.5 0 0 1 0,21h-9" fill="none" stroke="#8a8a8a" strokeWidth={4} />
      <path d="M233,121.5h3.5v4h-3.5zM233,142h3.5v4h-3.5z" fill="#8a8a8a" />
      <rect x={279} y={131} width={21} height={15} fill="#1abc9c" />
      <path d="M283,131v-3a6.5,6.5 0 0 1 13,0v3" fill="none" stroke="#1abc9c" strokeWidth={3} />
    </svg>
  );
}
